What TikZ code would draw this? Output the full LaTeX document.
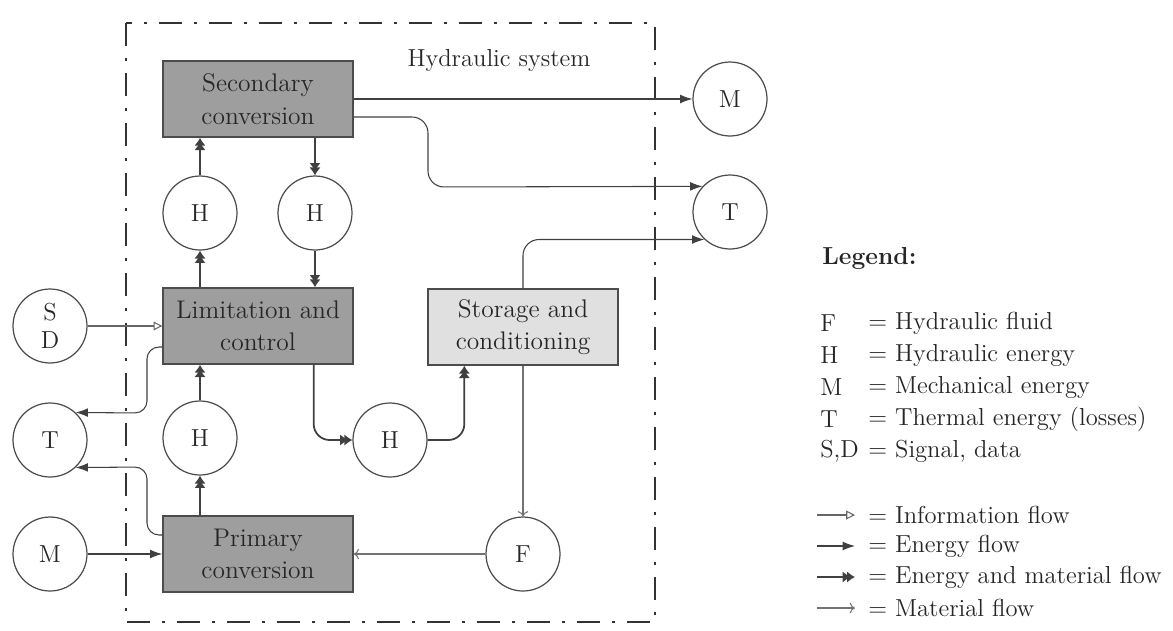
\documentclass[tikz,border=0pt]{standalone}
\usepackage{tikz}
\usetikzlibrary{arrows.meta,calc}
\tikzset{
 hs frame/.style={line width=1.4pt,black!80,
                  dash pattern=on 4.6mm off 2.4mm on .6mm off 2.4mm},
 hs box/.style={draw=black!70,line width=.8pt,fill=black!38,minimum width=3.8cm,
                minimum height=1.52cm,inner sep=0pt,align=center,text=black!85,
                font=\fontsize{14.5}{18.5}\selectfont},
 hs lightbox/.style={hs box,fill=black!12},
 hs circle/.style={circle,draw=black!70,line width=.7pt,minimum size=1.48cm,
                   inner sep=0pt,align=center,text=black!85,
                   font=\fontsize{14}{16}\selectfont},
 hs info/.style={draw=black!60,line width=.6pt,-{Triangle[open,length=5pt,width=5pt]}},
 hs energy/.style={draw=black!75,line width=.6pt,-{Latex[length=7pt,width=5pt]}},
 hs energy material/.style={draw=black!75,line width=1pt,
   -{Latex[length=4.5pt,width=6.5pt,sep=-2pt]Latex[length=4.5pt,width=6.5pt]}},
 hs material/.style={draw=black!55,line width=.6pt,-{To[length=3pt,width=6pt]}},
 hs bend/.style={rounded corners=3.2mm},
 hs legend/.style={anchor=west,inner sep=0pt,text=black!85,
                   font=\fontsize{14}{16}\selectfont}
}
\begin{document}
\begin{tikzpicture}[x=0.02cm,y=-0.02cm]
 \useasboundingbox (0,0) rectangle (1173,630);
 % system boundary
 \draw[hs frame] (126,23) rectangle (655,622);
 \node[text=black!85,font=\fontsize{14}{16}\selectfont] (title) at (499,60) {Hydraulic system};
 % function blocks
 \node[hs box] (sec) at (258,99) {Secondary\\conversion};
 \node[hs box] (lim) at (258,326) {Limitation and\\control};
 \node[hs lightbox] (sto) at (523,327) {Storage and\\conditioning};
 \node[hs box] (pri) at (258,554) {Primary\\conversion};
 % energy and material carriers
 \foreach \n/\lbl/\x/\y in {h1/H/200/213,h2/H/315/213,h3/H/200/438,h4/H/390/440,
   f/F/523/554,sd/{S\\D}/50/326,tl/T/50/440,ml/M/50/554,mr/M/730/99,tr/T/730/212}{
   \node[hs circle] (\n) at (\x,\y) {\lbl};
 }
 % flows
 \draw[hs energy] (sec.east) -- (mr.west);
 \draw[hs energy,hs bend] ($(sec.east)+(0,18)$) -| (428,187) -- (tr.137.5);
 \draw[hs energy,hs bend] (sto.north) |- (tr.227);
 \draw[hs energy material] (h1.north) -- (h1.north |- sec.south);
 \draw[hs energy material] (sec.south -| h2.north) -- (h2.north);
 \draw[hs energy material] (lim.north -| h1.south) -- (h1.south);
 \draw[hs energy material] (h2.south) -- (h2.south |- lim.north);
 \draw[hs energy material] (pri.north -| h3.south) -- (h3.south);
 \draw[hs energy material] (h3.north) -- (h3.north |- lim.south);
 \draw[hs energy material,hs bend] ($(lim.south east)+(-40,0)$) |- (h4.west);
 \draw[hs energy material,hs bend] (h4.east) -| ($(sto.south west)+(37,0)$);
 \draw[hs material] (sto.south) -- (f.north);
 \draw[hs material] (f.west) -- (pri.east);
 \draw[hs info] (sd.east) -- (lim.west);
 \draw[hs energy,rounded corners=2.4mm] ($(lim.west)+(0,21)$) -| (147,413) -- (tl.47);
 \draw[hs energy,rounded corners=2.4mm] ($(pri.west)+(0,-19)$) -| (147,467) -- (tl.-47);
 \draw[hs energy] (ml.east) -- (pri.west);
 % legend
 \node[hs legend,font=\bfseries\fontsize{14}{16}\selectfont] (leg) at (822,258) {Legend:};
 \foreach \k/\s/\d/\y in {lf/F/Hydraulic fluid/323,lh/H/Hydraulic energy/355,
   lm/M/Mechanical energy/387,lt/T/Thermal energy (losses)/419,
   lsd/{S,D}/{Signal, data}/451}{
   \node[hs legend] (\k) at (820,\y) {\s};
   \node[hs legend] (\k t) at (868,\y) {= \d};
 }
 \foreach \k/\d/\y in {li/Information flow/515,le/Energy flow/546,
   lem/Energy and material flow/577,lma/Material flow/608}{
   \coordinate (\k a) at (817,\y);
   \coordinate (\k b) at (855,\y);
   \node[hs legend] (\k t) at (868,\y) {= \d};
 }
 \draw[hs info] (lia) -- (lib);
 \draw[hs energy] (lea) -- (leb);
 \draw[hs energy material] (lema) -- (lemb);
 \draw[hs material] (lmaa) -- (lmab);
\end{tikzpicture}
\end{document}
